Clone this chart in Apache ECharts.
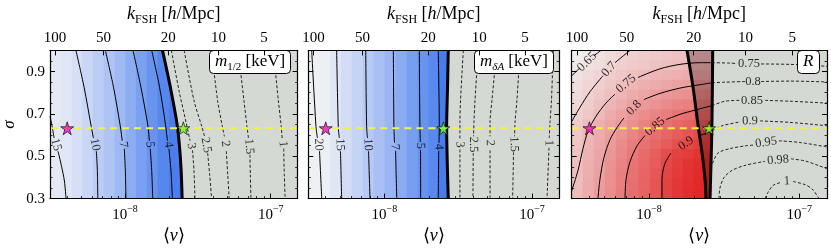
<!DOCTYPE html>
<html><head><meta charset="utf-8">
<script src="https://cdn.jsdelivr.net/npm/echarts@6/dist/echarts.min.js"></script>
<style>html,body{margin:0;padding:0;background:#fff}#c{width:831px;height:250px}</style>
</head><body><div id="c"></div>
<script>
// ---------- axes (x is log10 <v>) ----------
const X_MIN = -8.515, X_MAX = -6.815;
const Y_MIN = 0.3, Y_MAX = 1.0;
const X_MAJOR = [-8, -7];
const X_MAJOR_EXP = ['−8', '−7'];
const X_MINOR_V = [4e-9,5e-9,6e-9,7e-9,8e-9,9e-9,2e-8,3e-8,4e-8,5e-8,6e-8,7e-8,8e-8,9e-8];
const K_POS = [-8.48, -8.148, -7.703, -7.358, -7.047];
const K_LABELS = ['100','50','20','10','5'];
const Y_MAJOR = [0.3, 0.5, 0.7, 0.9];
const SIGMA_FID = 0.632;
const STAR_MAGENTA = [-8.397, 0.632];
const STAR_GREEN = [-7.600, 0.632];

// ---------- heatmaps ----------
const HEAT_NX = 23;
const M_HALF_COLS = [16.5, 15.8, 14.0, 12.2, 10.6, 9.1, 7.7, 6.6, 5.6, 4.8, 4.1, 3.7, 3.3];
const M_DA_COLS = [18.5, 18.0, 15.8, 13.5, 11.7, 10.0, 8.6, 7.3, 6.4, 5.5, 4.8, 4.2, 3.6];
const R_GRID = [
 [0.62,0.64,0.655,0.675,0.695,0.705,0.715,0.72,0.73,0.735,0.74,0.742,0.745],
 [0.64,0.655,0.67,0.69,0.705,0.715,0.725,0.735,0.743,0.75,0.752,0.755,0.757],
 [0.655,0.675,0.695,0.71,0.725,0.74,0.752,0.76,0.765,0.77,0.775,0.778,0.78],
 [0.67,0.69,0.705,0.725,0.745,0.758,0.768,0.777,0.785,0.792,0.798,0.802,0.804],
 [0.68,0.70,0.72,0.743,0.76,0.775,0.787,0.798,0.808,0.815,0.82,0.826,0.83],
 [0.69,0.71,0.738,0.76,0.775,0.793,0.806,0.815,0.825,0.833,0.84,0.846,0.85],
 [0.70,0.725,0.755,0.775,0.795,0.81,0.822,0.833,0.843,0.853,0.86,0.865,0.87],
 [0.715,0.745,0.77,0.79,0.805,0.82,0.835,0.85,0.86,0.868,0.875,0.882,0.887],
 [0.725,0.755,0.775,0.798,0.815,0.832,0.85,0.86,0.872,0.882,0.89,0.897,0.903],
 [0.73,0.76,0.78,0.802,0.825,0.843,0.856,0.87,0.882,0.893,0.9,0.907,0.912],
 [0.735,0.765,0.787,0.81,0.83,0.848,0.865,0.88,0.895,0.905,0.912,0.918,0.922],
 [0.74,0.77,0.79,0.815,0.835,0.853,0.868,0.882,0.9,0.91,0.918,0.924,0.928],
 [0.745,0.772,0.795,0.818,0.838,0.857,0.872,0.886,0.903,0.913,0.921,0.927,0.931],
 [0.748,0.775,0.798,0.82,0.84,0.86,0.874,0.888,0.905,0.915,0.923,0.929,0.933],
 [0.752,0.777,0.801,0.822,0.842,0.861,0.876,0.889,0.906,0.916,0.924,0.93,0.934]
];

// ---------- panel 1: m_1/2 ----------
const P1_SOLID = [
 [[-8.515,0.689],[-8.500,0.640],[-8.487,0.586],null,[-8.460,0.524],[-8.436,0.453],[-8.416,0.383],[-8.405,0.30]],
 [[-8.337,1.0],[-8.281,0.826],[-8.234,0.648],[-8.217,0.586],null,[-8.197,0.524],[-8.190,0.433],[-8.187,0.30]],
 [[-8.135,1.0],[-8.079,0.826],[-8.034,0.648],[-8.019,0.573],null,[-8.005,0.536],[-7.998,0.433],[-7.994,0.30]],
 [[-7.945,1.0],[-7.891,0.826],[-7.844,0.648],[-7.833,0.573],null,[-7.827,0.536],[-7.817,0.433],[-7.810,0.30]],
 [[-7.817,1.0],[-7.763,0.826],[-7.722,0.648],[-7.709,0.573],null,[-7.699,0.536],[-7.685,0.433],[-7.675,0.30]]
];
const P1_DASHED = [
 [[-7.682,1.0],[-7.628,0.805],[-7.581,0.660],[-7.554,0.573],null,[-7.537,0.528],[-7.527,0.433],[-7.520,0.30]],
 [[-7.594,1.0],[-7.527,0.764],[-7.473,0.640],[-7.453,0.590],null,[-7.433,0.515],[-7.419,0.412],[-7.406,0.30]],
 [[-7.406,1.0],[-7.365,0.764],[-7.332,0.640],[-7.318,0.594],null,[-7.305,0.524],[-7.295,0.412],[-7.285,0.30]],
 [[-7.224,1.0],[-7.184,0.764],[-7.163,0.640],[-7.153,0.586],null,[-7.143,0.507],[-7.140,0.412],[-7.136,0.30]],
 [[-6.982,1.0],[-6.948,0.764],[-6.928,0.640],[-6.921,0.578],null,[-6.911,0.536],[-6.907,0.412],[-6.901,0.30]]
];
const P1_BOUNDARY = [[-7.743,1.0],[-7.689,0.826],[-7.642,0.648],[-7.625,0.536],[-7.615,0.433],[-7.608,0.30]];
const P1_LABELS = [[-8.473,0.555,'15'],[-8.207,0.555,'10'],[-8.012,0.555,'7'],[-7.830,0.555,'5'],[-7.703,0.555,'4'],
 [-7.545,0.549,'3'],[-7.443,0.552,'2.5'],[-7.311,0.559,'2'],[-7.148,0.546,'1.5'],[-6.915,0.557,'1']];
const P1_LABEL_ROT = [-75,-80,-82,-84,-82,-80,-80,-83,-85,-85];

// ---------- panel 2: m_dA ----------
const P2_SOLID = [
 [[-8.492,1.0],[-8.463,0.640],[-8.453,0.586],null,[-8.439,0.524],[-8.424,0.30]],
 [[-8.323,1.0],[-8.312,0.640],[-8.305,0.586],null,[-8.297,0.524],[-8.289,0.30]],
 [[-8.126,1.0],[-8.120,0.640],[-8.114,0.586],null,[-8.107,0.524],[-8.097,0.30]],
 [[-7.939,1.0],[-7.935,0.640],[-7.931,0.563],null,[-7.924,0.526],[-7.916,0.30]],
 [[-7.763,1.0],[-7.759,0.640],[-7.756,0.567],null,[-7.755,0.530],[-7.754,0.30]],
 [[-7.635,1.0],[-7.628,0.640],[-7.630,0.563],null,[-7.632,0.526],[-7.635,0.30]]
];
const P2_DASHED = [
 [[-7.465,1.0],[-7.484,0.764],[-7.488,0.660],[-7.488,0.578],null,[-7.488,0.532],[-7.488,0.30]],
 [[-7.364,1.0],[-7.386,0.764],[-7.393,0.660],[-7.396,0.594],null,[-7.398,0.515],[-7.400,0.30]],
 [[-7.239,1.0],[-7.271,0.764],[-7.284,0.660],[-7.284,0.594],null,[-7.284,0.528],[-7.284,0.30]],
 [[-7.081,1.0],[-7.102,0.764],[-7.115,0.660],[-7.118,0.594],null,[-7.125,0.519],[-7.131,0.30]],
 [[-6.856,1.0],[-6.868,0.764],[-6.878,0.660],[-6.883,0.586],null,[-6.885,0.540],[-6.898,0.30]]
];
const P2_BOUNDARY = [[-7.567,1.0],[-7.572,0.826],[-7.578,0.640],[-7.574,0.474],[-7.567,0.30]];
const P2_LABELS = [[-8.446,0.555,'20'],[-8.300,0.555,'15'],[-8.111,0.555,'10'],[-7.928,0.544,'7'],[-7.756,0.549,'5'],[-7.631,0.544,'4'],
 [-7.488,0.555,'3'],[-7.397,0.555,'2.5'],[-7.284,0.563,'2'],[-7.122,0.557,'1.5'],[-6.885,0.563,'1']];
const P2_LABEL_ROT = [-87,-88,-88,-88,-89,-89,-89,-89,-89,-88,-88];

// ---------- panel 3: R ----------
const P3_SOLID = [
 [[-8.515,0.880],[-8.460,0.917],null,[-8.367,0.975],[-8.320,1.0]],
 [[-8.515,0.664],[-8.460,0.731],[-8.393,0.805],[-8.307,0.880],null,[-8.227,0.942],[-8.160,0.981],[-8.127,1.0]],
 [[-8.515,0.337],[-8.473,0.433],[-8.440,0.536],[-8.406,0.619],[-8.353,0.689],[-8.287,0.751],[-8.227,0.793],null,[-8.074,0.872],[-7.927,0.913],[-7.794,0.934],[-7.661,0.942],[-7.581,0.942]],
 [[-8.340,0.30],[-8.327,0.391],[-8.300,0.495],[-8.260,0.578],[-8.213,0.636],[-8.167,0.681],null,[-8.034,0.768],[-7.927,0.797],[-7.794,0.822],[-7.661,0.838],[-7.581,0.847]],
 [[-8.160,0.30],[-8.153,0.391],[-8.127,0.474],[-8.080,0.549],[-8.027,0.598],null,[-7.887,0.673],[-7.794,0.698],[-7.694,0.718],[-7.581,0.739]],
 [[-7.914,0.30],[-7.914,0.391],[-7.894,0.466],[-7.854,0.515],null,[-7.674,0.594],[-7.627,0.607],[-7.581,0.619]]
];
const P3_DASHED = [
 [[-7.581,0.942],[-7.461,0.940],[-7.414,0.938],null,[-7.254,0.936],[-7.061,0.934],[-6.815,0.925]],
 [[-7.581,0.847],[-7.494,0.850],[-7.361,0.853],null,[-7.254,0.853],[-7.061,0.855],[-6.815,0.851]],
 [[-7.581,0.739],[-7.494,0.760],[-7.394,0.764],null,[-7.228,0.764],[-7.061,0.760],[-6.815,0.751]],
 [[-7.581,0.619],[-7.514,0.644],[-7.394,0.662],null,[-7.261,0.667],[-7.061,0.660],[-6.815,0.644]],
 [[-7.577,0.466],[-7.541,0.515],[-7.461,0.536],[-7.361,0.549],[-7.301,0.553],null,[-7.135,0.573],[-6.995,0.565],[-6.815,0.544]],
 [[-7.534,0.30],[-7.528,0.350],[-7.501,0.399],[-7.448,0.433],[-7.361,0.457],[-7.228,0.476],null,[-7.055,0.488],[-6.962,0.478],[-6.875,0.457],[-6.815,0.441]],
 [[-7.228,0.30],[-7.208,0.329],[-7.175,0.362],[-7.128,0.375],null,[-7.041,0.381],[-6.962,0.366],[-6.915,0.346],[-6.875,0.308],[-6.868,0.30]]
];
const P3_WEDGE_LEFT = [[-7.747,1.0],[-7.707,0.826],[-7.674,0.648],[-7.647,0.515],[-7.627,0.391],[-7.621,0.30]];
const P3_WEDGE_RIGHT = [[-7.576,1.0],[-7.581,0.660],[-7.587,0.474],[-7.594,0.30]];
const P3_LABELS = [[-8.413,0.946,'0.65'],[-8.267,0.911,'0.7'],[-8.153,0.843,'0.75'],[-8.100,0.729,'0.8'],[-7.960,0.640,'0.85'],[-7.754,0.561,'0.9'],
 [-7.334,0.938,'0.75'],[-7.308,0.853,'0.8'],[-7.314,0.764,'0.85'],[-7.328,0.667,'0.9'],[-7.221,0.565,'0.95'],[-7.141,0.482,'0.98'],[-7.081,0.383,'1']];
const P3_LABEL_ROT = [45,48,40,46,40,35,0,0,0,2,8,5,3];

// ================= build =================
const FONT = 'Liberation Serif';
const GREY = '#d5d9d3';
const STAR = 'path://M50,0 L61.2,34.5 L97.6,34.5 L68.2,55.9 L79.4,90.5 L50,69.1 L20.6,90.5 L31.8,55.9 L2.4,34.5 L38.8,34.5 Z';
const GRIDS = [{left:45.3,width:252.4},{left:308.3,width:251},{left:571.7,width:255.3}];
const LEGENDS = [
  {text:'{i|m}{s|1/2} [keV]', left:209},
  {text:'{i|m}{si|δA} [keV]', left:474},
  {text:'{i|R}', left:797}
];
function richSet(fs, sub){
  return {
    i:{fontFamily:FONT, fontStyle:'italic', fontSize:fs, lineHeight:fs+5, color:'#000'},
    s:{fontFamily:FONT, fontSize:sub, lineHeight:sub+2, verticalAlign:'bottom', color:'#000'},
    si:{fontFamily:FONT, fontStyle:'italic', fontSize:sub, lineHeight:sub+2, verticalAlign:'bottom', color:'#000'},
    b:{fontFamily:FONT, fontSize:fs, lineHeight:fs+5, color:'#000'},
    sup:{fontFamily:FONT, fontSize:sub, lineHeight:sub, verticalAlign:'top', color:'#000'}
  };
}
const RICH_TICK = richSet(15, 10);
const RICH_NAME = richSet(18, 12);
const RICH_LEG = richSet(17, 11);
const grid=[], xAxis=[], yAxis=[], series=[], title=[];
const blueHeat=[], redHeat=[];
const toLine = arr => arr.map(p => p === null ? ['-','-'] : p);
const findIdx = (arr, v) => arr.findIndex(t => Math.abs(t - v) < 1e-6);

const PANELS = [
  {solid:P1_SOLID, dashed:P1_DASHED, bounds:[P1_BOUNDARY], labels:P1_LABELS, rot:P1_LABEL_ROT, grey:P1_BOUNDARY, cols:M_HALF_COLS},
  {solid:P2_SOLID, dashed:P2_DASHED, bounds:[P2_BOUNDARY], labels:P2_LABELS, rot:P2_LABEL_ROT, grey:P2_BOUNDARY, cols:M_DA_COLS},
  {solid:P3_SOLID, dashed:P3_DASHED, bounds:[P3_WEDGE_LEFT,P3_WEDGE_RIGHT], labels:P3_LABELS, rot:P3_LABEL_ROT, grey:P3_WEDGE_RIGHT, grid2d:R_GRID, wedge:[P3_WEDGE_LEFT,P3_WEDGE_RIGHT]}
];

function polySeries(xi, yi, pts, fill, z){
  return {type:'custom', xAxisIndex:xi, yAxisIndex:yi, z:z, silent:true, clip:true,
    data:[[pts[0][0], pts[0][1]]],
    renderItem:(params, api) => ({type:'polygon', shape:{points: pts.map(p => api.coord(p))}, style:{fill:fill}})
  };
}

PANELS.forEach((P, p) => {
  const g = GRIDS[p];
  grid.push({left:g.left, width:g.width, top:43, height:169});
  const xi = xAxis.length, yi = yAxis.length;
  const lineC = {color:'#000', width:1.2};
  // x axes
  xAxis.push({gridIndex:p, type:'value', position:'bottom', min:X_MIN, max:X_MAX, z:10,
    axisLine:{show:true, onZero:false, lineStyle:lineC},
    axisTick:{show:true, inside:true, length:5, customValues:X_MAJOR, lineStyle:{color:'#000', width:1}},
    axisLabel:{show:true, customValues:X_MAJOR, margin:6, formatter:v => { const i = findIdx(X_MAJOR, v); return i < 0 ? '' : '{b|10}{sup|' + X_MAJOR_EXP[i] + '}'; }, rich:RICH_TICK},
    splitLine:{show:false},
    name:'⟨{i|v}⟩', nameLocation:'middle', nameGap:21, nameTextStyle:{fontFamily:FONT, fontSize:18, color:'#000', rich:RICH_NAME}});
  xAxis.push({gridIndex:p, type:'value', position:'bottom', min:X_MIN, max:X_MAX, z:10,
    axisLine:{show:false}, axisLabel:{show:false}, splitLine:{show:false},
    axisTick:{show:true, inside:true, length:2.5, customValues:X_MINOR_V.map(v => Math.log10(v)), lineStyle:{color:'#000', width:0.8}}});
  xAxis.push({gridIndex:p, type:'value', position:'top', min:X_MIN, max:X_MAX, z:10,
    axisLine:{show:true, onZero:false, lineStyle:lineC},
    axisTick:{show:true, inside:true, length:5, customValues:K_POS, lineStyle:{color:'#000', width:1}},
    axisLabel:{show:true, customValues:K_POS, margin:5, color:'#000', fontFamily:FONT, fontSize:15,
      formatter:v => { const i = findIdx(K_POS, v); return i < 0 ? '' : K_LABELS[i]; }},
    splitLine:{show:false},
    name:'{i|k}{s|FSH} [{i|h}/Mpc]', nameLocation:'middle', nameGap:21, nameTextStyle:{fontFamily:FONT, fontSize:18, color:'#000', rich:RICH_NAME}});
  xAxis.push({gridIndex:p, type:'category', show:false, data:Array.from({length:HEAT_NX}, (_, i) => i)});
  // y axes
  yAxis.push({gridIndex:p, type:'value', position:'left', min:Y_MIN, max:Y_MAX, z:10,
    axisLine:{show:true, onZero:false, lineStyle:lineC},
    axisTick:{show:true, inside:true, length:5, customValues:Y_MAJOR, lineStyle:{color:'#000', width:1}},
    axisLabel:{show:p === 0, customValues:Y_MAJOR, margin:5, color:'#000', fontFamily:FONT, fontSize:15, formatter:v => v.toFixed(1)},
    splitLine:{show:false},
    name:p === 0 ? 'σ' : '', nameLocation:'middle', nameGap:32, nameTextStyle:{fontFamily:FONT, fontSize:17, fontStyle:'italic', color:'#000'}});
  yAxis.push({gridIndex:p, type:'value', position:'left', min:Y_MIN, max:Y_MAX, interval:0.05, z:10,
    axisLine:{show:false}, axisLabel:{show:false}, splitLine:{show:false},
    axisTick:{show:true, inside:true, length:2.5, lineStyle:{color:'#000', width:0.8}}});
  yAxis.push({gridIndex:p, type:'value', position:'right', min:Y_MIN, max:Y_MAX, z:10,
    axisLine:{show:true, onZero:false, lineStyle:lineC}, axisLabel:{show:false}, splitLine:{show:false},
    axisTick:{show:true, inside:true, length:5, customValues:Y_MAJOR, lineStyle:{color:'#000', width:1}}});
  yAxis.push({gridIndex:p, type:'value', position:'right', min:Y_MIN, max:Y_MAX, interval:0.05, z:10,
    axisLine:{show:false}, axisLabel:{show:false}, splitLine:{show:false},
    axisTick:{show:true, inside:true, length:2.5, lineStyle:{color:'#000', width:0.8}}});
  const nRows = P.grid2d ? P.grid2d.length : 1;
  yAxis.push({gridIndex:p, type:'category', show:false, inverse:true, data:Array.from({length:nRows}, (_, i) => i)});
  const cx = xi + 3, cy = yi + 4;

  // heatmap
  const hdata = [];
  if (P.grid2d) {
    P.grid2d.forEach((row, r) => row.forEach((v, c) => hdata.push([c, r, v])));
    redHeat.push(series.length);
  } else {
    P.cols.forEach((v, c) => hdata.push([c, 0, Math.log10(v)]));
    blueHeat.push(series.length);
  }
  series.push({type:'heatmap', xAxisIndex:cx, yAxisIndex:cy, data:hdata, z:1, silent:true,
    itemStyle:{borderWidth:0}, emphasis:{disabled:true}, progressive:0});

  // grey excluded region
  const greyPts = P.grey.concat([[X_MAX, Y_MIN], [X_MAX, Y_MAX]]);
  series.push(polySeries(xi, yi, greyPts, GREY, 2));
  if (P.wedge) {
    const wpts = P.wedge[0].concat(P.wedge[1].slice().reverse());
    series.push(polySeries(xi, yi, wpts, 'rgba(50,10,10,0.30)', 2));
  }

  // contours
  P.solid.forEach(c => series.push({type:'line', xAxisIndex:xi, yAxisIndex:yi, data:toLine(c), smooth:0.3, showSymbol:false, silent:true, z:3,
    connectNulls:false, lineStyle:{color:'#000', width:1}}));
  P.dashed.forEach(c => series.push({type:'line', xAxisIndex:xi, yAxisIndex:yi, data:toLine(c), smooth:0.3, showSymbol:false, silent:true, z:3,
    connectNulls:false, lineStyle:{color:'#111', width:0.9, type:[3,2]}}));
  P.bounds.forEach(c => series.push({type:'line', xAxisIndex:xi, yAxisIndex:yi, data:c, smooth:0.3, showSymbol:false, silent:true, z:5,
    lineStyle:{color:'#000', width:3}}));
  // contour labels
  series.push({type:'scatter', xAxisIndex:xi, yAxisIndex:yi, symbolSize:0, silent:true, z:4,
    data:P.labels.map((l, i) => ({value:[l[0], l[1]], label:{formatter:l[2], rotate:P.rot[i]}})),
    label:{show:true, position:'inside', color:'#000', fontFamily:FONT, fontSize:12.5}});
  // fiducial sigma line
  series.push({type:'line', xAxisIndex:xi, yAxisIndex:yi, data:[[X_MIN, SIGMA_FID], [X_MAX, SIGMA_FID]], showSymbol:false, silent:true, z:6,
    lineStyle:{color:'#f3f33a', width:2, type:[7,5]}});
  // stars
  series.push({type:'scatter', xAxisIndex:xi, yAxisIndex:yi, symbol:STAR, symbolSize:13, silent:true, z:7,
    data:[{value:STAR_MAGENTA, itemStyle:{color:'#f012c0'}}, {value:STAR_GREEN, itemStyle:{color:'#7af52a'}}],
    itemStyle:{borderColor:'#000', borderWidth:0.8}});

  // legend box
  title.push({text:LEGENDS[p].text, left:LEGENDS[p].left, top:50, padding:[1,6,1,6],
    backgroundColor:'#fff', borderColor:'#000', borderWidth:1, borderRadius:4,
    textStyle:{fontFamily:FONT, fontSize:17, fontWeight:'normal', color:'#000', lineHeight:22, rich:RICH_LEG}});
});

const option = {
  animation:false,
  title:title, grid:grid, xAxis:xAxis, yAxis:yAxis, series:series,
  visualMap:[
    {type:'continuous', show:false, seriesIndex:blueHeat, dimension:2, min:Math.log10(3.5), max:Math.log10(18.3),
      inRange:{color:['#457aeb','#6390ef','#84a6f2','#a3bcf4','#bccdf5','#d5def5','#eef0f4']}},
    {type:'continuous', show:false, seriesIndex:redHeat, dimension:2, min:0.62, max:0.94,
      inRange:{color:['#efefef','#f0d8d8','#eebdbd','#eb9595','#e76262','#e11c1c']}}
  ]
};
const chart = echarts.init(document.getElementById('c'));
chart.setOption(option);
</script></body></html>
